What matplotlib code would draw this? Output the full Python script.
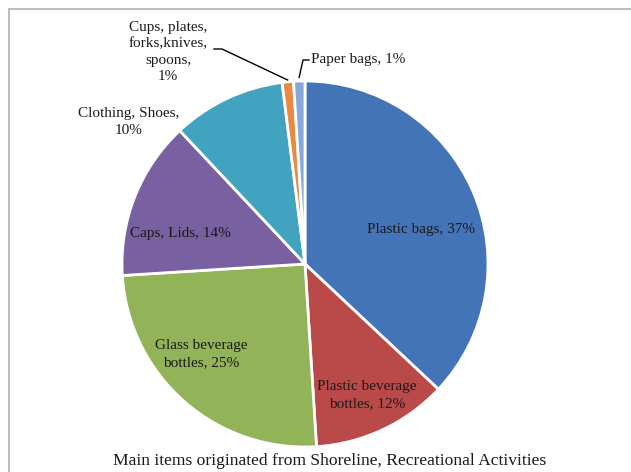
import matplotlib
matplotlib.use("Agg")
import matplotlib.pyplot as plt
import numpy as np

# ---- data ----
categories = ["Plastic bags", "Plastic beverage bottles", "Glass beverage bottles",
              "Caps, Lids", "Clothing, Shoes", "Cups, plates, forks,knives, spoons",
              "Paper bags"]
shares = [37, 12, 25, 14, 10, 1, 1]
label_texts = ["Plastic bags, 37%", "Plastic beverage\nbottles, 12%",
               "Glass beverage\nbottles, 25%", "Caps, Lids, 14%",
               "Clothing, Shoes,\n10%", "Cups, plates,\nforks,knives,\nspoons,\n1%",
               "Paper bags, 1%"]
title = "Main items originated from Shoreline, Recreational Activities"

# ---- style / layout ----
colors = ["#4474B8", "#BA4A49", "#92B357", "#7860A1", "#42A3C0", "#EA8A42", "#88A8DA"]
W, H = 631, 472
cx, cy, R = 305, 264, 183
# label anchor positions (pixel coords from top-left) and alignment
label_pos = [(421, 229, "center"), (367, 395, "center"), (201, 354, "center"),
             (180, 233, "center"), (129, 122, "center"), (168, 52, "center"),
             (311, 60, "left")]
serif = "Liberation Serif"

fig = plt.figure(figsize=(W / 100, H / 100), dpi=100)
fig.patch.set_facecolor("white")
ax = fig.add_axes([0, 0, 1, 1])

wedges, _ = ax.pie(shares, colors=colors, startangle=90, counterclock=False,
                   center=(cx, H - cy), radius=R,
                   wedgeprops=dict(edgecolor="white", linewidth=2))
ax.set_xlim(0, W)
ax.set_ylim(0, H)
ax.set_aspect("auto")
ax.axis("off")

for txt, (x, y, ha) in zip(label_texts, label_pos):
    ax.text(x, H - y, txt, ha=ha, va="center", fontsize=11, family=serif,
            color="#1a1a1a", linespacing=1.35)

# leader lines for the two small slices
def edge_point(w, rr=1.0):
    ang = np.deg2rad((w.theta1 + w.theta2) / 2)
    return cx + R * rr * np.cos(ang), (H - cy) + R * rr * np.sin(ang)

ex, ey = edge_point(wedges[5], 1.01)
ax.plot([214, 222, ex], [H - 49, H - 49, ey], color="black", lw=1)
ex, ey = edge_point(wedges[6], 1.02)
ax.plot([309, 303, ex], [H - 60, H - 60, ey], color="black", lw=1)

ax.text(330, H - 461, title, ha="center", va="center", fontsize=12.6, family=serif,
        color="#1a1a1a")

# frame lines (top & left)
ax.plot([8, W], [H - 9, H - 9], color="#BDBDBD", lw=1.5, solid_capstyle="butt")
ax.plot([9, 9], [H - 9, 0], color="#BDBDBD", lw=1.5, solid_capstyle="butt")

fig.savefig("out.png", dpi=100, facecolor="white")
